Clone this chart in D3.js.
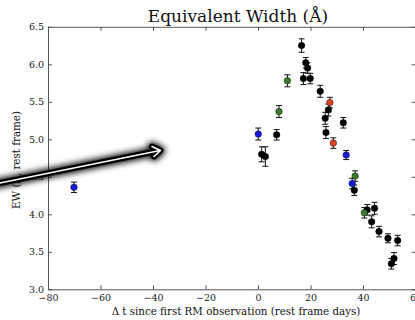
<!DOCTYPE html>
<html>
<head>
<meta charset="utf-8">
<script src="https://cdn.jsdelivr.net/npm/d3@7"></script>
<style>
  body { margin: 0; background: #fff; }
  svg { display: block; }
  .axis text { font-family: "DejaVu Serif", serif; font-size: 9.5px; }
  .axis path, .axis line { stroke: #555; }
</style>
</head>
<body>
<div id="chart"></div>
<script>
// Equivalent width data: [days, EW, error]
let blackX = [16.6, 18.2, 18.9, 17.3, 19.9, 23.7, 26.8, 25.6, 32.5, 25.9, 7.1, 1.4, 2.8, 36.7, 41.6, 44.4, 43.3, 46.1, 49.5, 53.2, 51.8, 50.8];
let blackY = [6.25, 6.02, 5.95, 5.81, 5.81, 5.64, 5.39, 5.28, 5.22, 5.09, 5.06, 4.80, 4.77, 4.32, 4.06, 4.08, 3.90, 3.77, 3.68, 3.65, 3.41, 3.34];
let blackErr = [0.09, 0.07, 0.07, 0.08, 0.07, 0.08, 0.08, 0.08, 0.07, 0.08, 0.07, 0.10, 0.13, 0.07, 0.07, 0.08, 0.08, 0.07, 0.06, 0.07, 0.08, 0.07];

let blueX = [0.1, 33.6, 35.9, -70.1];
let blueY = [5.07, 4.79, 4.41, 4.36];
let blueErr = [0.08, 0.06, 0.07, 0.07];

let greenX = [11.2, 8.0, 37.0, 40.5];
let greenY = [5.78, 5.37, 4.51, 4.02];
let greenErr = [0.08, 0.08, 0.07, 0.07];

let redX = [27.4, 28.7];
let redY = [5.49, 4.95];
let redErr = [0.07, 0.07];

let xTicks = [-80, -60, -40, -20, 0, 20, 40, 60];
let yTicks = [3.0, 3.5, 4.0, 4.5, 5.0, 5.5, 6.0, 6.5];

let WIDTH = 415, HEIGHT = 320;
let LEFT = 48, RIGHT = 415.5, TOP = 26.8, BOTTOM = 289.3;

let svg = d3.select('#chart').append('svg')
    .attr('width', WIDTH)
    .attr('height', HEIGHT);

let x = d3.scaleLinear().domain([-80, 60]).range([LEFT, RIGHT]);
let y = d3.scaleLinear().domain([3, 6.5]).range([BOTTOM, TOP]);

// axes, ticks pointing inward like matplotlib
svg.append('g').attr('class', 'axis')
    .attr('transform', `translate(0,${BOTTOM})`)
    .call(d3.axisBottom(x).tickValues(xTicks).tickSize(-4).tickPadding(5).tickSizeOuter(0));
svg.append('g').attr('class', 'axis')
    .attr('transform', `translate(0,${TOP})`)
    .call(d3.axisTop(x).tickValues(xTicks).tickSize(-4).tickFormat('').tickSizeOuter(0));
svg.append('g').attr('class', 'axis')
    .attr('transform', `translate(${LEFT},0)`)
    .call(d3.axisLeft(y).tickValues(yTicks).tickSize(-4).tickPadding(4).tickFormat(d3.format('.1f')).tickSizeOuter(0));
svg.append('g').attr('class', 'axis')
    .attr('transform', `translate(${RIGHT},0)`)
    .call(d3.axisRight(y).tickValues(yTicks).tickSize(-4).tickFormat('').tickSizeOuter(0));

svg.selectAll('.axis text').attr('fill', '#222');

// title and axis labels
svg.append('text')
    .attr('x', 238).attr('y', 22)
    .attr('text-anchor', 'middle')
    .style('font-family', '"DejaVu Serif", serif')
    .style('font-size', '17px')
    .attr('fill', '#111')
    .text('Equivalent Width (Å)');

svg.append('text')
    .attr('x', 236).attr('y', 315)
    .attr('text-anchor', 'middle')
    .style('font-family', '"DejaVu Serif", serif')
    .style('font-size', '10.3px')
    .attr('fill', '#111')
    .text('Δ t since first RM observation (rest frame days)');

svg.append('text')
    .attr('transform', 'translate(20,160) rotate(-90)')
    .attr('text-anchor', 'middle')
    .style('font-family', '"DejaVu Serif", serif')
    .style('font-size', '10.3px')
    .attr('fill', '#111')
    .text('EW (Å, rest frame)');

// build series
function series(xs, ys, es, color) {
    return xs.map((d, i) => ({x: d, y: ys[i], e: es[i], color: color}));
}
let points = [].concat(
    series(blackX, blackY, blackErr, '#000'),
    series(blueX, blueY, blueErr, '#1a1ad6'),
    series(greenX, greenY, greenErr, '#3b7a2c'),
    series(redX, redY, redErr, '#dd4327')
);

let g = svg.append('g');
let bars = g.selectAll('.err')
    .data(points)
    .enter()
    .append('g')
    .attr('stroke', '#111')
    .attr('stroke-width', 1);
bars.append('line')
    .attr('x1', d => x(d.x)).attr('x2', d => x(d.x))
    .attr('y1', d => y(d.y - d.e)).attr('y2', d => y(d.y + d.e));
bars.append('line')
    .attr('x1', d => x(d.x) - 3).attr('x2', d => x(d.x) + 3)
    .attr('y1', d => y(d.y + d.e)).attr('y2', d => y(d.y + d.e));
bars.append('line')
    .attr('x1', d => x(d.x) - 3).attr('x2', d => x(d.x) + 3)
    .attr('y1', d => y(d.y - d.e)).attr('y2', d => y(d.y - d.e));

g.selectAll('.pt')
    .data(points)
    .enter()
    .append('circle')
    .attr('cx', d => x(d.x))
    .attr('cy', d => y(d.y))
    .attr('r', 3.3)
    .attr('fill', d => d.color)
    .attr('stroke', '#000')
    .attr('stroke-width', 0.4);

// annotation arrow drawn over the chart
let defs = svg.append('defs');
defs.append('filter').attr('id', 'blur')
    .attr('x', '-20%').attr('y', '-50%').attr('width', '140%').attr('height', '200%')
    .append('feGaussianBlur').attr('stdDeviation', 3);

let arrowLine = 'M-5,184 L160,150.5';
let arrowHead = 'M152,146.5 L160.5,150.5 L154,156.5';
let arrow = svg.append('g').attr('fill', 'none').attr('stroke-linecap', 'round').attr('stroke-linejoin', 'round');
arrow.append('path').attr('d', arrowLine + ' ' + arrowHead)
    .attr('stroke', '#000').attr('stroke-width', 9).attr('filter', 'url(#blur)');
arrow.append('path').attr('d', arrowLine + ' ' + arrowHead)
    .attr('stroke', '#000').attr('stroke-width', 6);
arrow.append('path').attr('d', arrowLine + ' ' + arrowHead)
    .attr('stroke', '#fff').attr('stroke-width', 1.6);
</script>
</body>
</html>
